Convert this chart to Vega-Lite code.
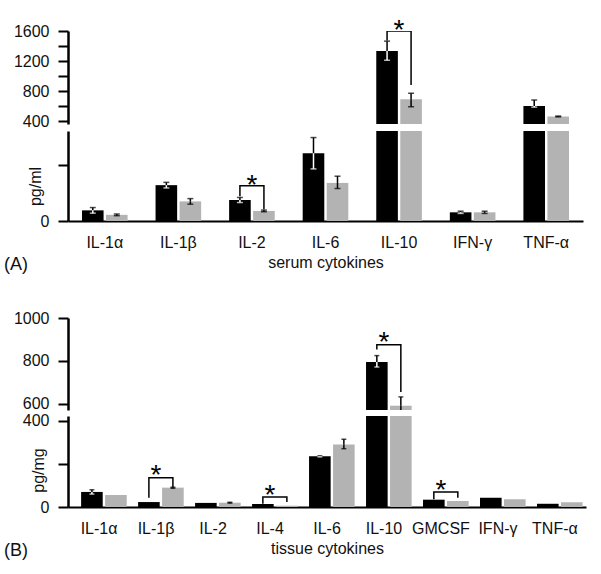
{
  "$schema": "https://vega.github.io/schema/vega-lite/v6.json",
  "padding": {"left": 4, "top": 17, "right": 5, "bottom": 5},
  "config": {
    "font": "Liberation Sans",
    "view": {"stroke": null},
    "axis": {"labelFont": "Liberation Sans", "titleFont": "Liberation Sans", "labelFontSize": 16, "titleFontSize": 16, "titleFontWeight": "normal", "labelColor": "#111", "titleColor": "#111", "domainColor": "#000", "tickColor": "#000", "grid": false},
    "axisY": {"domainWidth": 2.5, "tickWidth": 2, "tickSize": 10, "labelPadding": 9, "format": "d", "labelOverlap": false},
    "axisX": {"domainWidth": 2, "ticks": false, "tickSize": 0, "labelPadding": 13, "labelAngle": 0, "titlePadding": 4, "zindex": 1},
    "title": {"font": "Liberation Sans", "fontWeight": "normal", "fontSize": 18, "color": "#111"}
  },
  "datasets": {
    "serum": [
      {"cytokine": "IL-1α", "series": "s1", "value": 19, "lo": 14, "hi": 24},
      {"cytokine": "IL-1α", "series": "s2", "value": 11, "lo": 9.5, "hi": 12.5},
      {"cytokine": "IL-1β", "series": "s1", "value": 64, "lo": 59, "hi": 69},
      {"cytokine": "IL-1β", "series": "s2", "value": 35, "lo": 30, "hi": 40},
      {"cytokine": "IL-2", "series": "s1", "value": 37.5, "lo": 33, "hi": 42},
      {"cytokine": "IL-2", "series": "s2", "value": 18, "lo": 16.5, "hi": 19.5},
      {"cytokine": "IL-6", "series": "s1", "value": 121, "lo": 93, "hi": 149},
      {"cytokine": "IL-6", "series": "s2", "value": 68, "lo": 58, "hi": 80},
      {"cytokine": "IL-10", "series": "s1", "value": 1335, "lo": 1210, "hi": 1465},
      {"cytokine": "IL-10", "series": "s2", "value": 690, "lo": 590, "hi": 770},
      {"cytokine": "IFN-γ", "series": "s1", "value": 15.5, "lo": 13.5, "hi": 17.5},
      {"cytokine": "IFN-γ", "series": "s2", "value": 15.5, "lo": 13.5, "hi": 17.5},
      {"cytokine": "TNF-α", "series": "s1", "value": 600, "lo": 585, "hi": 680},
      {"cytokine": "TNF-α", "series": "s2", "value": 460, "lo": 455, "hi": 466}
    ],
    "serumBr": [
      {"id": "a1", "ord": 1, "cytokine": "IL-2", "series": "s1", "y": 44},
      {"id": "a1", "ord": 2, "cytokine": "IL-2", "series": "s1", "y": 63},
      {"id": "a1", "ord": 3, "cytokine": "IL-2", "series": "s2", "y": 63},
      {"id": "a1", "ord": 4, "cytokine": "IL-2", "series": "s2", "y": 21},
      {"id": "a2", "ord": 1, "cytokine": "IL-10", "series": "s1", "y": 1475},
      {"id": "a2", "ord": 2, "cytokine": "IL-10", "series": "s1", "y": 1600},
      {"id": "a2", "ord": 3, "cytokine": "IL-10", "series": "s2", "y": 1600},
      {"id": "a2", "ord": 4, "cytokine": "IL-10", "series": "s2", "y": 880}
    ],
    "serumStar": [
      {"cytokine": "IL-2", "y": 77},
      {"cytokine": "IL-10", "y": 1706}
    ],
    "tissue": [
      {"cytokine": "IL-1α", "series": "s1", "value": 70, "lo": 60, "hi": 80},
      {"cytokine": "IL-1α", "series": "s2", "value": 56, "lo": null, "hi": null},
      {"cytokine": "IL-1β", "series": "s1", "value": 23, "lo": null, "hi": null},
      {"cytokine": "IL-1β", "series": "s2", "value": 90, "lo": 87, "hi": 92},
      {"cytokine": "IL-2", "series": "s1", "value": 19, "lo": null, "hi": null},
      {"cytokine": "IL-2", "series": "s2", "value": 20, "lo": 18, "hi": 22},
      {"cytokine": "IL-4", "series": "s1", "value": 14, "lo": null, "hi": null},
      {"cytokine": "IL-4", "series": "s2", "value": 6, "lo": null, "hi": null},
      {"cytokine": "IL-6", "series": "s1", "value": 236, "lo": 233, "hi": 238},
      {"cytokine": "IL-6", "series": "s2", "value": 290, "lo": 271, "hi": 315},
      {"cytokine": "IL-10", "series": "s1", "value": 795, "lo": 772, "hi": 825},
      {"cytokine": "IL-10", "series": "s2", "value": 592, "lo": 555, "hi": 633},
      {"cytokine": "GMCSF", "series": "s1", "value": 34, "lo": null, "hi": null},
      {"cytokine": "GMCSF", "series": "s2", "value": 28, "lo": null, "hi": null},
      {"cytokine": "IFN-γ", "series": "s1", "value": 43, "lo": null, "hi": null},
      {"cytokine": "IFN-γ", "series": "s2", "value": 36, "lo": null, "hi": null},
      {"cytokine": "TNF-α", "series": "s1", "value": 15, "lo": null, "hi": null},
      {"cytokine": "TNF-α", "series": "s2", "value": 22, "lo": null, "hi": null}
    ],
    "tissueBr": [
      {"id": "b1", "ord": 1, "cytokine": "IL-1β", "series": "s1", "y": 43},
      {"id": "b1", "ord": 2, "cytokine": "IL-1β", "series": "s1", "y": 136},
      {"id": "b1", "ord": 3, "cytokine": "IL-1β", "series": "s2", "y": 136},
      {"id": "b1", "ord": 4, "cytokine": "IL-1β", "series": "s2", "y": 92},
      {"id": "b2", "ord": 1, "cytokine": "IL-4", "series": "s1", "y": 15},
      {"id": "b2", "ord": 2, "cytokine": "IL-4", "series": "s1", "y": 46},
      {"id": "b2", "ord": 3, "cytokine": "IL-4", "series": "s2", "y": 46},
      {"id": "b2", "ord": 4, "cytokine": "IL-4", "series": "s2", "y": 23},
      {"id": "b3", "ord": 1, "cytokine": "IL-10", "series": "s1", "y": 853},
      {"id": "b3", "ord": 2, "cytokine": "IL-10", "series": "s1", "y": 876},
      {"id": "b3", "ord": 3, "cytokine": "IL-10", "series": "s2", "y": 876},
      {"id": "b3", "ord": 4, "cytokine": "IL-10", "series": "s2", "y": 656},
      {"id": "b4", "ord": 1, "cytokine": "GMCSF", "series": "s1", "y": 36},
      {"id": "b4", "ord": 2, "cytokine": "GMCSF", "series": "s1", "y": 70},
      {"id": "b4", "ord": 3, "cytokine": "GMCSF", "series": "s2", "y": 70},
      {"id": "b4", "ord": 4, "cytokine": "GMCSF", "series": "s2", "y": 43}
    ],
    "tissueStar": [
      {"cytokine": "IL-1β", "y": 183},
      {"cytokine": "IL-4", "y": 88},
      {"cytokine": "IL-10", "y": 921},
      {"cytokine": "GMCSF", "y": 112}
    ]
  },
  "spacing": 36,
  "vconcat": [
    {
      "spacing": 7,
      "bounds": "flush",
      "vconcat": [
        {
          "width": 515, "height": 93,
          "encoding": {"x": {"field": "cytokine", "type": "nominal", "scale": {"domain": ["IL-1α", "IL-1β", "IL-2", "IL-6", "IL-10", "IFN-γ", "TNF-α"], "paddingInner": 0.38, "paddingOuter": 0.19}, "axis": null}},
          "layer": [
            {"data": {"name": "serum"}, "mark": {"type": "bar", "clip": true},
             "encoding": {"xOffset": {"field": "series", "scale": {"domain": ["s1", "s2"], "paddingInner": 0.1}},
               "y": {"field": "value", "type": "quantitative", "scale": {"domain": [360, 1600], "nice": false, "zero": false}, "axis": {"values": [400, 600, 800, 1000, 1200, 1400, 1600], "tickCount": 10, "labelExpr": "indexof(['400','800','1200','1600'], datum.label) >= 0 ? datum.label : ''", "labelOverlap": false, "title": null}},
               "y2": {"datum": 360},
               "color": {"field": "series", "type": "nominal", "scale": {"domain": ["s1", "s2"], "range": ["#000000", "#b3b3b3"]}, "legend": null}}},
            {"data": {"name": "serum"}, "transform": [{"filter": "datum.hi != null"}], "mark": {"type": "rule", "clip": true, "strokeWidth": 1.5, "color": "#000"},
             "encoding": {"xOffset": {"field": "series"}, "y": {"field": "value", "type": "quantitative"}, "y2": {"field": "hi"}}},
            {"data": {"name": "serum"}, "transform": [{"filter": "datum.hi != null"}], "mark": {"type": "tick", "clip": true, "thickness": 1.5, "size": 6, "color": "#000"},
             "encoding": {"xOffset": {"field": "series"}, "y": {"field": "hi", "type": "quantitative"}}},
            {"data": {"name": "serum"}, "transform": [{"filter": "datum.lo != null"}], "mark": {"type": "rule", "clip": true, "strokeWidth": 1.5},
             "encoding": {"xOffset": {"field": "series"}, "y": {"field": "lo", "type": "quantitative"}, "y2": {"field": "value"}, "color": {"condition": {"test": "datum.series === 's1'", "value": "#ffffff"}, "value": "#000000"}}},
            {"data": {"name": "serum"}, "transform": [{"filter": "datum.lo != null"}], "mark": {"type": "tick", "clip": true, "thickness": 1.5, "size": 6},
             "encoding": {"xOffset": {"field": "series"}, "y": {"field": "lo", "type": "quantitative"}, "color": {"condition": {"test": "datum.series === 's1'", "value": "#ffffff"}, "value": "#000000"}}},
            {"data": {"name": "serumBr"}, "transform": [{"filter": "datum.y >= 500"}], "mark": {"type": "line", "clip": true, "strokeWidth": 1.5, "color": "#000"},
             "encoding": {"xOffset": {"field": "series"}, "y": {"field": "y", "type": "quantitative"}, "detail": {"field": "id"}, "order": {"field": "ord"}}},
            {"data": {"name": "serumStar"}, "transform": [{"filter": "datum.y >= 500"}], "mark": {"type": "text", "text": "*", "fontSize": 28, "dy": 8, "color": "#000"},
             "encoding": {"y": {"field": "y", "type": "quantitative"}}}
          ]
        },
        {
          "width": 515, "height": 90,
          "title": {"text": "(A)", "orient": "bottom", "anchor": "start", "frame": "group", "dx": -64, "offset": 0, "dy": -14},
          "encoding": {"x": {"field": "cytokine", "type": "nominal", "scale": {"domain": ["IL-1α", "IL-1β", "IL-2", "IL-6", "IL-10", "IFN-γ", "TNF-α"], "paddingInner": 0.38, "paddingOuter": 0.19}, "axis": {"title": "serum cytokines"}}},
          "layer": [
            {"data": {"name": "serum"}, "mark": {"type": "bar", "clip": true},
             "encoding": {"xOffset": {"field": "series", "scale": {"domain": ["s1", "s2"], "paddingInner": 0.1}},
               "y": {"field": "value", "type": "quantitative", "scale": {"domain": [0, 160.7], "nice": false}, "axis": {"values": [0, 100], "labelExpr": "datum.value === 0 ? datum.label : ''", "labelOverlap": false, "title": "pg/ml", "titleX": -25, "titleY": 55}},
               "y2": {"datum": 0},
               "color": {"field": "series", "type": "nominal", "scale": {"domain": ["s1", "s2"], "range": ["#000000", "#b3b3b3"]}, "legend": null}}},
            {"data": {"name": "serum"}, "transform": [{"filter": "datum.hi != null"}], "mark": {"type": "rule", "clip": true, "strokeWidth": 1.5, "color": "#000"},
             "encoding": {"xOffset": {"field": "series"}, "y": {"field": "value", "type": "quantitative"}, "y2": {"field": "hi"}}},
            {"data": {"name": "serum"}, "transform": [{"filter": "datum.hi != null"}], "mark": {"type": "tick", "clip": true, "thickness": 1.5, "size": 6, "color": "#000"},
             "encoding": {"xOffset": {"field": "series"}, "y": {"field": "hi", "type": "quantitative"}}},
            {"data": {"name": "serum"}, "transform": [{"filter": "datum.lo != null"}], "mark": {"type": "rule", "clip": true, "strokeWidth": 1.5},
             "encoding": {"xOffset": {"field": "series"}, "y": {"field": "lo", "type": "quantitative"}, "y2": {"field": "value"}, "color": {"condition": {"test": "datum.series === 's1'", "value": "#ffffff"}, "value": "#000000"}}},
            {"data": {"name": "serum"}, "transform": [{"filter": "datum.lo != null"}], "mark": {"type": "tick", "clip": true, "thickness": 1.5, "size": 6},
             "encoding": {"xOffset": {"field": "series"}, "y": {"field": "lo", "type": "quantitative"}, "color": {"condition": {"test": "datum.series === 's1'", "value": "#ffffff"}, "value": "#000000"}}},
            {"data": {"name": "serumBr"}, "transform": [{"filter": "datum.y < 500"}], "mark": {"type": "line", "clip": true, "strokeWidth": 1.5, "color": "#000"},
             "encoding": {"xOffset": {"field": "series"}, "y": {"field": "y", "type": "quantitative"}, "detail": {"field": "id"}, "order": {"field": "ord"}}},
            {"data": {"name": "serumStar"}, "transform": [{"filter": "datum.y < 500"}], "mark": {"type": "text", "text": "*", "fontSize": 28, "dy": 8, "color": "#000"},
             "encoding": {"y": {"field": "y", "type": "quantitative"}}}
          ]
        }
      ]
    },
    {
      "spacing": 6,
      "bounds": "flush",
      "vconcat": [
        {
          "width": 518, "height": 92,
          "encoding": {"x": {"field": "cytokine", "type": "nominal", "scale": {"domain": ["IL-1α", "IL-1β", "IL-2", "IL-4", "IL-6", "IL-10", "GMCSF", "IFN-γ", "TNF-α"], "paddingInner": 0.37, "paddingOuter": 0.23}, "axis": null}},
          "layer": [
            {"data": {"name": "tissue"}, "mark": {"type": "bar", "clip": true},
             "encoding": {"xOffset": {"field": "series", "scale": {"domain": ["s1", "s2"], "paddingInner": 0.1}},
               "y": {"field": "value", "type": "quantitative", "scale": {"domain": [572, 1000], "nice": false, "zero": false}, "axis": {"values": [600, 800, 1000], "tickCount": 10, "labelOverlap": false, "title": null}},
               "y2": {"datum": 572},
               "color": {"field": "series", "type": "nominal", "scale": {"domain": ["s1", "s2"], "range": ["#000000", "#b3b3b3"]}, "legend": null}}},
            {"data": {"name": "tissue"}, "transform": [{"filter": "datum.hi != null"}], "mark": {"type": "rule", "clip": true, "strokeWidth": 1.5, "color": "#000"},
             "encoding": {"xOffset": {"field": "series"}, "y": {"field": "value", "type": "quantitative"}, "y2": {"field": "hi"}}},
            {"data": {"name": "tissue"}, "transform": [{"filter": "datum.hi != null"}], "mark": {"type": "tick", "clip": true, "thickness": 1.5, "size": 5, "color": "#000"},
             "encoding": {"xOffset": {"field": "series"}, "y": {"field": "hi", "type": "quantitative"}}},
            {"data": {"name": "tissue"}, "transform": [{"filter": "datum.lo != null"}], "mark": {"type": "rule", "clip": true, "strokeWidth": 1.5},
             "encoding": {"xOffset": {"field": "series"}, "y": {"field": "lo", "type": "quantitative"}, "y2": {"field": "value"}, "color": {"condition": {"test": "datum.series === 's1'", "value": "#ffffff"}, "value": "#000000"}}},
            {"data": {"name": "tissue"}, "transform": [{"filter": "datum.lo != null"}], "mark": {"type": "tick", "clip": true, "thickness": 1.5, "size": 5},
             "encoding": {"xOffset": {"field": "series"}, "y": {"field": "lo", "type": "quantitative"}, "color": {"condition": {"test": "datum.series === 's1'", "value": "#ffffff"}, "value": "#000000"}}},
            {"data": {"name": "tissueBr"}, "transform": [{"filter": "datum.y >= 500"}], "mark": {"type": "line", "clip": true, "strokeWidth": 1.5, "color": "#000"},
             "encoding": {"xOffset": {"field": "series"}, "y": {"field": "y", "type": "quantitative"}, "detail": {"field": "id"}, "order": {"field": "ord"}}},
            {"data": {"name": "tissueStar"}, "transform": [{"filter": "datum.y >= 500"}], "mark": {"type": "text", "text": "*", "fontSize": 28, "dy": 8, "color": "#000"},
             "encoding": {"y": {"field": "y", "type": "quantitative"}}}
          ]
        },
        {
          "width": 518, "height": 91,
          "title": {"text": "(B)", "orient": "bottom", "anchor": "start", "frame": "group", "dx": -64, "offset": 0, "dy": -14},
          "encoding": {"x": {"field": "cytokine", "type": "nominal", "scale": {"domain": ["IL-1α", "IL-1β", "IL-2", "IL-4", "IL-6", "IL-10", "GMCSF", "IFN-γ", "TNF-α"], "paddingInner": 0.37, "paddingOuter": 0.23}, "axis": {"title": "tissue cytokines"}}},
          "layer": [
            {"data": {"name": "tissue"}, "mark": {"type": "bar", "clip": true},
             "encoding": {"xOffset": {"field": "series", "scale": {"domain": ["s1", "s2"], "paddingInner": 0.1}},
               "y": {"field": "value", "type": "quantitative", "scale": {"domain": [0, 423], "nice": false}, "axis": {"values": [0, 200, 400], "tickCount": 10, "labelExpr": "datum.value === 200 ? '' : datum.label", "labelOverlap": false, "title": "pg/mg", "titleX": -22, "titleY": 54}},
               "y2": {"datum": 0},
               "color": {"field": "series", "type": "nominal", "scale": {"domain": ["s1", "s2"], "range": ["#000000", "#b3b3b3"]}, "legend": null}}},
            {"data": {"name": "tissue"}, "transform": [{"filter": "datum.hi != null"}], "mark": {"type": "rule", "clip": true, "strokeWidth": 1.5, "color": "#000"},
             "encoding": {"xOffset": {"field": "series"}, "y": {"field": "value", "type": "quantitative"}, "y2": {"field": "hi"}}},
            {"data": {"name": "tissue"}, "transform": [{"filter": "datum.hi != null"}], "mark": {"type": "tick", "clip": true, "thickness": 1.5, "size": 5, "color": "#000"},
             "encoding": {"xOffset": {"field": "series"}, "y": {"field": "hi", "type": "quantitative"}}},
            {"data": {"name": "tissue"}, "transform": [{"filter": "datum.lo != null"}], "mark": {"type": "rule", "clip": true, "strokeWidth": 1.5},
             "encoding": {"xOffset": {"field": "series"}, "y": {"field": "lo", "type": "quantitative"}, "y2": {"field": "value"}, "color": {"condition": {"test": "datum.series === 's1'", "value": "#ffffff"}, "value": "#000000"}}},
            {"data": {"name": "tissue"}, "transform": [{"filter": "datum.lo != null"}], "mark": {"type": "tick", "clip": true, "thickness": 1.5, "size": 5},
             "encoding": {"xOffset": {"field": "series"}, "y": {"field": "lo", "type": "quantitative"}, "color": {"condition": {"test": "datum.series === 's1'", "value": "#ffffff"}, "value": "#000000"}}},
            {"data": {"name": "tissueBr"}, "transform": [{"filter": "datum.y < 500"}], "mark": {"type": "line", "clip": true, "strokeWidth": 1.5, "color": "#000"},
             "encoding": {"xOffset": {"field": "series"}, "y": {"field": "y", "type": "quantitative"}, "detail": {"field": "id"}, "order": {"field": "ord"}}},
            {"data": {"name": "tissueStar"}, "transform": [{"filter": "datum.y < 500"}], "mark": {"type": "text", "text": "*", "fontSize": 28, "dy": 8, "color": "#000"},
             "encoding": {"y": {"field": "y", "type": "quantitative"}}}
          ]
        }
      ]
    }
  ]
}
